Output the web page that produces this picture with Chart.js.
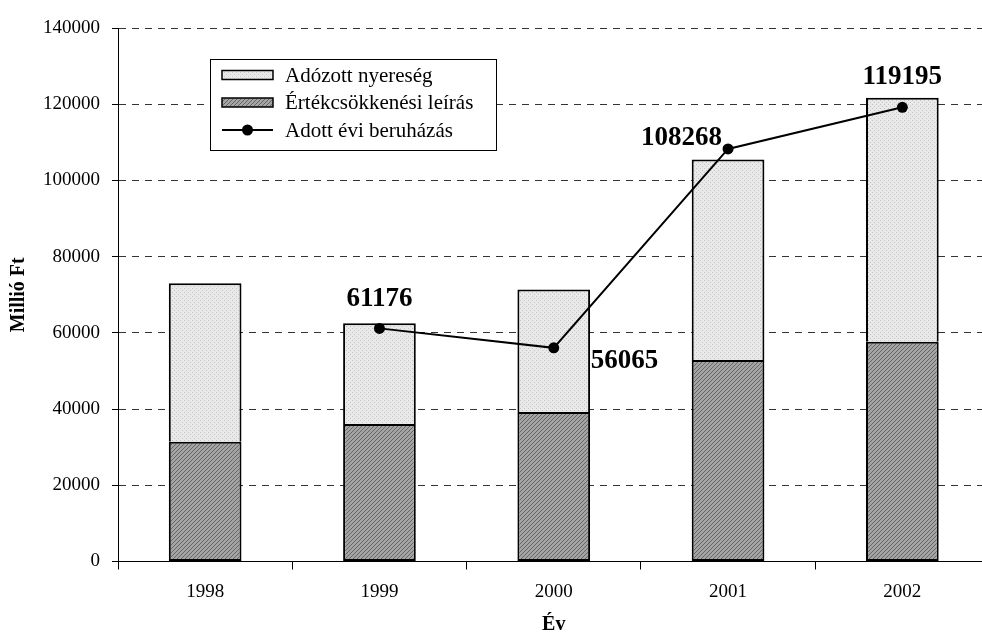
<!DOCTYPE html>
<html>
<head>
<meta charset="utf-8">
<script src="https://cdn.jsdelivr.net/npm/chart.js@4.4.0/dist/chart.umd.min.js"></script>
<style>
  html, body { margin: 0; padding: 0; overflow: hidden; background: #fff; }
</style>
</head>
<body>
<canvas id="chart" width="995" height="635"></canvas>
<script>
// adatok (Millió Ft)
const years = ['1998', '1999', '2000', '2001', '2002'];
const depreciation = [31400, 36100, 39200, 52850, 57650];   // Értékcsökkenési leírás
const profit = [41600, 26400, 32200, 52650, 64050];         // Adózott nyereség
const investment = [null, 61176, 56065, 108268, 119195];    // Adott évi beruházás
const yTicks = [0, 20000, 40000, 60000, 80000, 100000, 120000, 140000];

const serif = "'Liberation Serif', 'Times New Roman', serif";

// kitöltési minták
function makePattern(kind) {
  const c = document.createElement('canvas');
  c.width = 4; c.height = 4;
  const g = c.getContext('2d');
  if (kind === 'light') {
    g.fillStyle = '#e9e9e9';
    g.fillRect(0, 0, 4, 4);
    g.fillStyle = '#c4c4c4';
    g.fillRect(0, 0, 1, 1);
    g.fillRect(2, 2, 1, 1);
  } else {
    g.fillStyle = '#a4a4a4';
    g.fillRect(0, 0, 4, 4);
    g.fillStyle = '#666';
    for (let i = 0; i < 4; i++) g.fillRect(i, 3 - i, 1, 1);
  }
  return g.createPattern(c, 'repeat');
}
const lightFill = makePattern('light');
const darkFill = makePattern('dark');

// címkék helye a pontokhoz képest
const labelPlace = [
  null,
  { align: 'center', dx: 0, dy: -29 },
  { align: 'left', dx: 37, dy: 13 },
  { align: 'right', dx: -6, dy: -11 },
  { align: 'center', dx: 0, dy: -30 }
];

const pointLabels = {
  id: 'pointLabels',
  afterDatasetsDraw(chart) {
    const meta = chart.getDatasetMeta(2);
    const ctx = chart.ctx;
    ctx.save();
    ctx.font = 'bold 27px ' + serif;
    ctx.fillStyle = '#000';
    ctx.textBaseline = 'middle';
    meta.data.forEach((pt, i) => {
      if (investment[i] == null) return;
      const p = labelPlace[i];
      ctx.textAlign = p.align;
      ctx.fillText(String(investment[i]), pt.x + p.dx, pt.y + p.dy);
    });
    ctx.restore();
  }
};

// keretes jelmagyarázat a grafikonon belül
const boxLegend = {
  id: 'boxLegend',
  afterDraw(chart) {
    const ctx = chart.ctx;
    const ds = chart.data.datasets;
    const items = [ds[1], ds[0], ds[2]];
    const bx = 210.5, by = 59.5, bw = 286, bh = 91;
    ctx.save();
    ctx.fillStyle = '#fff';
    ctx.fillRect(bx, by, bw, bh);
    ctx.strokeStyle = '#000';
    ctx.lineWidth = 1;
    ctx.strokeRect(bx, by, bw, bh);
    ctx.font = '21px ' + serif;
    ctx.textBaseline = 'middle';
    ctx.textAlign = 'left';
    items.forEach((d, i) => {
      const y = 75 + i * 27.5;
      if (d.type === 'line') {
        ctx.strokeStyle = '#000';
        ctx.lineWidth = 2;
        ctx.beginPath();
        ctx.moveTo(222, y);
        ctx.lineTo(273, y);
        ctx.stroke();
        ctx.fillStyle = '#000';
        ctx.beginPath();
        ctx.arc(247.5, y, 5.5, 0, Math.PI * 2);
        ctx.fill();
      } else {
        ctx.fillStyle = d.backgroundColor;
        ctx.fillRect(222, y - 4.5, 51, 9);
        ctx.strokeStyle = '#000';
        ctx.lineWidth = 1.5;
        ctx.strokeRect(222, y - 4.5, 51, 9);
      }
      ctx.fillStyle = '#000';
      ctx.fillText(d.label, 285, y + 1);
    });
    ctx.restore();
  }
};

new Chart(document.getElementById('chart'), {
  data: {
    labels: years,
    datasets: [
      {
        type: 'bar',
        label: 'Értékcsökkenési leírás',
        data: depreciation,
        backgroundColor: darkFill,
        borderColor: '#000',
        borderWidth: 2,
        borderSkipped: false,
        barPercentage: 0.417,
        categoryPercentage: 1,
        stack: 'bars',
        order: 1
      },
      {
        type: 'bar',
        label: 'Adózott nyereség',
        data: profit,
        backgroundColor: lightFill,
        borderColor: '#000',
        borderWidth: 2,
        borderSkipped: 'bottom',
        barPercentage: 0.417,
        categoryPercentage: 1,
        stack: 'bars',
        order: 2
      },
      {
        type: 'line',
        label: 'Adott évi beruházás',
        data: investment,
        borderColor: '#000',
        borderWidth: 2,
        pointRadius: 5.5,
        pointBackgroundColor: '#000',
        pointBorderWidth: 0,
        spanGaps: false,
        stack: 'inv',
        order: 0
      }
    ]
  },
  options: {
    responsive: false,
    animation: false,
    devicePixelRatio: 1,
    layout: { padding: { top: 28, right: 1, left: 0, bottom: 0 } },
    plugins: {
      legend: { display: false },
      tooltip: { enabled: false }
    },
    scales: {
      x: {
        stacked: true,
        offset: true,
        grid: { offset: true, drawOnChartArea: false, drawTicks: true, tickLength: 8, color: '#000' },
        border: { color: '#000', width: 1 },
        ticks: { color: '#000', font: { family: serif, size: 19 }, padding: 11, maxRotation: 0 },
        title: {
          display: true, text: 'Év', color: '#000', padding: 0,
          font: { family: serif, size: 20, weight: 'bold', lineHeight: 1 }
        },
        afterFit: s => { s.height = 73.5; }
      },
      y: {
        stacked: true,
        min: 0,
        max: 140000,
        afterBuildTicks: s => { s.ticks = yTicks.map(v => ({ value: v })); },
        ticks: { color: '#000', font: { family: serif, size: 19 }, padding: 12, callback: v => String(v) },
        grid: { color: '#333', tickColor: '#000', tickLength: 6, lineWidth: 1 },
        border: { color: '#000', width: 1, dash: [7, 6] },
        title: {
          display: true, text: 'Millió Ft', color: '#000',
          padding: { top: 8.5, bottom: 0 },
          font: { family: serif, size: 20, weight: 'bold', lineHeight: 1 }
        },
        afterFit: s => { s.width = 118; }
      }
    }
  },
  plugins: [pointLabels, boxLegend]
});
</script>
</body>
</html>
